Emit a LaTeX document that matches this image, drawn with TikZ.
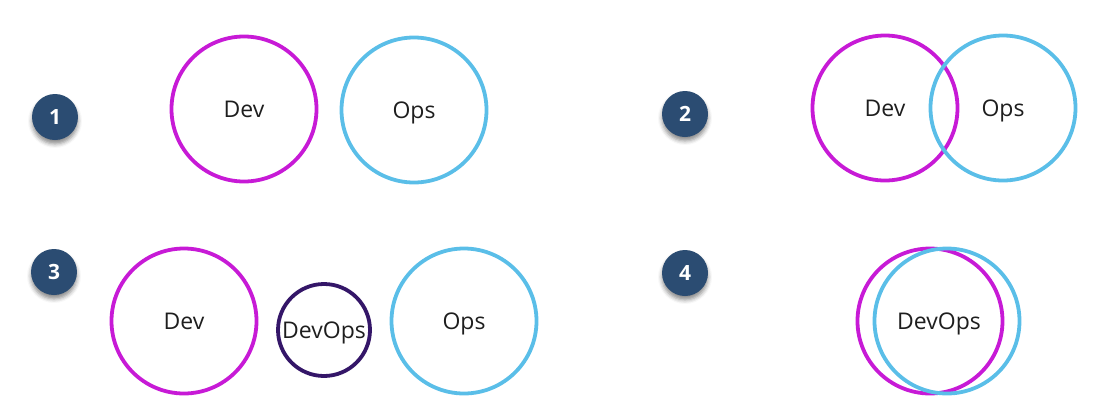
\documentclass[tikz,border=0pt]{standalone}
\usepackage{fontspec}
\setmainfont{Open Sans}
\usetikzlibrary{shadows.blur}
\definecolor{devmagenta}{RGB}{199,26,214}
\definecolor{opsblue}{RGB}{90,190,232}
\definecolor{devopspurple}{RGB}{52,22,104}
\definecolor{badgeblue}{RGB}{43,76,114}
\definecolor{labelgray}{RGB}{30,30,30}
\tikzset{
  label text/.style={text=labelgray, font=\fontsize{23}{26}\selectfont, text height=16.5pt, text depth=0pt},
  ring/.style={circle, line width=3.8pt, minimum size=145pt, inner sep=0pt, label text},
  devring/.style={ring, draw=devmagenta},
  opsring/.style={ring, draw=opsblue},
  mixring/.style={ring, draw=devopspurple, minimum size=92pt},
  badge/.style={circle, fill=badgeblue, minimum size=46pt, inner sep=0pt, text=white, font=\fontsize{21}{24}\selectfont\bfseries, blur shadow={shadow xshift=0pt, shadow yshift=-4pt, shadow blur radius=4pt, shadow opacity=45}}
}
\begin{document}
\begin{tikzpicture}[x=1pt,y=-1pt]
\useasboundingbox (0,0) rectangle (1104,418);
% step 1
\node[badge] (step1) at (55,117){1};
\node[devring] (dev1) at (244,109){Dev};
\node[opsring] (ops1) at (414,110){Ops};
% step 2
\node[badge] (step2) at (685,114){2};
\node[devring] (dev2) at (885,108){Dev};
\node[opsring] (ops2) at (1003,108){Ops};
% step 3
\node[badge] (step3) at (54,272){3};
\node[devring] (dev3) at (184,321){Dev};
\node[mixring] (devops3) at (324,330){DevOps};
\node[opsring] (ops3) at (464,321){Ops};
% step 4
\node[badge] (step4) at (685,273){4};
\node[devring] (dev4) at (930,321){};
\node[opsring] (ops4) at (947,321){};
\node[label text] (devops4) at (939,321){DevOps};
\end{tikzpicture}
\end{document}
